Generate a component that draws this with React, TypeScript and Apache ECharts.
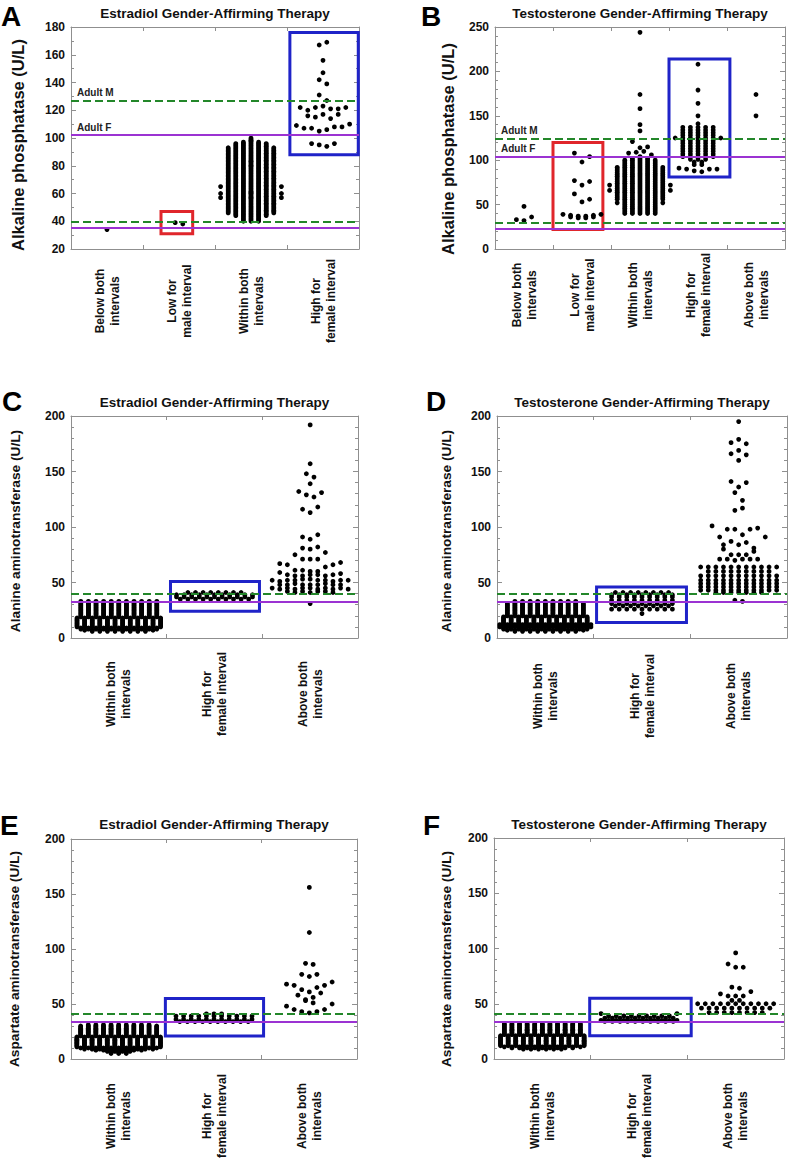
import React, { useEffect, useRef } from "react";
import * as echarts from "echarts";

const FONT = "Arial, 'Liberation Sans', Helvetica, sans-serif";
const GREEN = "#23872a";
const PURPLE = "#9b32d2";
const BLUE = "#1f23c8";
const RED = "#e0262b";
const AXIS = "#8f8f8f";
const INK = "#111111";

// ---------- category tick labels ----------
const catsA = ["Below both\nintervals", "Low for\nmale interval", "Within both\nintervals", "High for\nfemale interval"];
const catsB = ["Below both\nintervals", "Low for\nmale interval", "Within both\nintervals", "High for\nfemale interval", "Above both\nintervals"];
const catsLiver = ["Within both\nintervals", "High for\nfemale interval", "Above both\nintervals"];

// ---------- y tick labels ----------
const yTicksA = [20, 40, 60, 80, 100, 120, 140, 160, 180];
const yTicksB = [0, 50, 100, 150, 200, 250];
const yTicksLiver = [0, 50, 100, 150, 200];

// ---------- reference limits ----------
const maleLimitsA = [40, 127];
const femaleLimitsA = [35, 102];
const maleLimitsB = [30, 124];
const femaleLimitsB = [23, 104];
const maleLimitsALT = [40];
const femaleLimitsALT = [33];
const maleLimitsAST = [41];
const femaleLimitsAST = [34];

// ---------- data: rows of dots (values U/L); dense rows are [value, count] ----------
// Panel A
const aBelowRows = [[34]];
const aLowMaleRows = [[39, 38]];
const aWithinRows = [[98], [83], [80], [61], [60], [57]];
const aWithinDense: [number, number][] = [[40,3],[41,3],[42,3],[43,3],[44,5],[45,5],[46,7],[47,7],[48,7],[49,7],[50,7],[51,7],[52,7],[53,7],[54,7],[55,7],[56,7],[57,9],[58,7],[59,7],[60,9],[61,7],[62,7],[63,7],[64,7],[65,9],[66,7],[67,7],[68,7],[69,7],[70,7],[71,7],[72,7],[73,7],[74,7],[75,7],[76,7],[77,7],[78,7],[79,7],[80,7],[81,7],[82,7],[83,7],[84,7],[85,7],[86,7],[87,7],[88,7],[89,7],[90,7],[91,7],[92,7],[93,7],[94,5],[95,5],[96,5],[97,3],[98,1],[99,1],[100,1]];
const aHighFemaleRows = [[167, 169], [156], [147], [142, 139], [131, 127], [122, 120, 122, 123, 121, 121, 122], [116, 115, 117, 114, 117], [109, 107, 107, 105, 106, 108, 108, 110], [96, 95, 94, 96]];

// Panel B
const bBelowRows = [[48], [33, 32, 36]];
const bLowMaleRows = [[108, 98, 104], [77, 72, 76], [62, 53, 56], [38, 37, 37, 38], [39, 36, 35, 35, 36, 39]];
const bWithinRows = [[244], [174], [158], [140], [133], [121, 114, 115], [108, 109, 110, 106]];
const bWithinDense: [number, number][] = [[40,5],[42,5],[44,5],[46,5],[48,5],[50,5],[52,7],[54,5],[56,7],[58,7],[60,7],[62,7],[64,7],[66,9],[68,7],[70,7],[72,9],[74,7],[76,7],[78,7],[80,7],[82,7],[84,7],[86,7],[88,7],[90,7],[92,7],[94,5],[96,5],[98,5],[100,5],[102,3],[104,1]];
const bHighFemaleRows = [[208], [179], [164], [150], [141], [91, 90, 88, 87, 90, 90]];
const bHighFemaleDense: [number, number][] = [[137,5],[134,5],[131,5],[128,5],[125,7],[122,5],[119,5],[116,5],[113,5],[110,5],[107,5],[104,5],[101,3],[98,2],[95,2]];
const bAboveRows = [[174], [150]];

// Panel C
const cWithinDense: [number, number][] = [[6,8],[7,10],[8,11],[9,11],[10,12],[11,12],[12,12],[13,12],[14,12],[15,12],[16,12],[17,12],[18,12],[19,11],[20,11],[21,11],[22,11],[23,11],[24,11],[25,11],[26,11],[27,11],[28,11],[29,11],[30,11],[31,11],[32,11],[33,11]];
const cHighFemaleDense: [number, number][] = [[41,8],[39,11],[37,11],[35,10]];
const cAboveRows = [[192], [157], [148, 145], [139], [132, 129, 127, 131], [116, 113, 118], [91, 89, 93], [81, 80, 82], [75, 71, 71, 71, 77], [67, 66, 61, 61, 60, 60, 64, 66, 68], [59, 57, 56, 56, 57, 57, 56, 57, 58], [52, 51, 52, 52, 53, 53, 52, 52, 51, 52, 52], [48, 48, 49, 48, 48, 48, 49, 48, 48], [45, 44, 45, 44, 45, 45, 44, 45, 44, 45, 44], [42, 41, 42, 41, 42, 42, 41], [31]];

// Panel D
const dWithinDense: [number, number][] = [[6,9],[7,11],[8,12],[9,12],[10,13],[11,12],[12,13],[13,12],[14,12],[15,12],[16,12],[17,12],[18,12],[19,12],[20,11],[21,11],[22,11],[23,11],[24,11],[25,11],[26,11],[27,11],[28,11],[29,11],[30,11],[31,11],[32,9],[33,9]];
const dHighFemaleRows = [[22]];
const dHighFemaleDense: [number, number][] = [[41,8],[39,9],[37,9],[34,9],[31,9],[29,8],[26,9]];
const dAboveRows = [[195], [176, 179, 175], [166, 169, 165], [160], [141, 136, 140], [131, 124], [115, 117], [101, 91, 98, 98, 93, 98, 99, 91], [84, 87, 84, 86, 81], [80, 75, 75, 75, 78], [71, 71, 70, 71, 71, 71], [34, 33]];
const dAboveDense: [number, number][] = [[64,11],[60,9],[56,11],[52,11],[49,11],[46,11],[43,11],[41,7]];

// Panel E
const eWithinDense: [number, number][] = [[5,3],[6,3],[7,4],[8,7],[9,10],[10,11],[11,12],[12,12],[13,12],[14,12],[15,12],[16,12],[17,12],[18,12],[19,12],[20,12],[21,11],[22,11],[23,11],[24,11],[25,11],[26,11],[27,11],[28,11],[29,11],[30,11],[31,9]];
const eHighFemaleDense: [number, number][] = [[41,3],[39,11],[36,11],[34,10]];
const eAboveRows = [[156], [115], [87, 86], [77, 75, 77], [68, 67, 63, 61, 65, 67, 70], [58, 54, 56, 60], [53, 51], [48, 45, 43, 42, 43, 45, 50]];

// Panel F
const fWithinDense: [number, number][] = [[9,6],[10,9],[11,11],[12,12],[13,12],[14,12],[15,12],[16,12],[17,12],[18,12],[19,12],[20,12],[21,12],[22,11],[23,11],[24,11],[25,11],[26,11],[27,11],[28,11],[29,11],[30,11],[31,11],[32,11]];
const fHighFemaleRows = [[41, 39, 39, 39, 39, 39, 39, 39, 39, 39, 41]];
const fHighFemaleDense: [number, number][] = [[37,10],[35,11],[34,10]];
const fAboveRows = [[96], [86, 83, 83], [65, 64], [59, 57, 57, 57, 61], [53, 53]];
const fAboveDense: [number, number][] = [[50,11],[46,10],[42,8]];

// ---------- highlight boxes (category, x-extent around category, y-range) ----------
const boxesA = [
  { cat: 1, from: -0.25, to: 0.19, low: 31, high: 47, color: RED },
  { cat: 3, from: -0.46, to: 0.49, low: 88, high: 176, color: BLUE },
];
const boxesB = [
  { cat: 1, from: -0.5, to: 0.36, low: 22, high: 120, color: RED },
  { cat: 3, from: -0.5, to: 0.55, low: 81, high: 214, color: BLUE },
];
const boxesC = [{ cat: 1, from: -0.46, to: 0.47, low: 24, high: 51, color: BLUE }];
const boxesD = [{ cat: 1, from: -0.47, to: 0.46, low: 14, high: 46, color: BLUE }];
const boxesE = [{ cat: 1, from: -0.51, to: 0.52, low: 21, high: 55, color: BLUE }];
const boxesF = [{ cat: 1, from: -0.51, to: 0.54, low: 21, high: 55, color: BLUE }];

type Group = { rows?: number[][]; dense?: [number, number][] };

const TITLE_E = "Estradiol Gender-Affirming Therapy";
const TITLE_T = "Testosterone Gender-Affirming Therapy";

const panels = [
  { letter: "A", lx: 1, ly: 16, title: TITLE_E, ty: 6, yName: "Alkaline phosphatase (U/L)", yNameSize: 16.5, yNameX: 17.5, yNameY: 145, grid: { left: 71, top: 27, width: 288, height: 222 }, cats: catsA, ticks: yTicksA, minor: 2, groups: [{ rows: aBelowRows }, { rows: aLowMaleRows }, { rows: aWithinRows, dense: aWithinDense }, { rows: aHighFemaleRows }] as Group[], male: maleLimitsA, female: femaleLimitsA, adult: true, boxes: boxesA, labelMargin: 52 },
  { letter: "B", lx: 421, ly: 16, title: TITLE_T, ty: 6, yName: "Alkaline phosphatase (U/L)", yNameSize: 16.5, yNameX: 448, yNameY: 149, grid: { left: 495, top: 27, width: 290, height: 222 }, cats: catsB, ticks: yTicksB, minor: 5, groups: [{ rows: bBelowRows }, { rows: bLowMaleRows }, { rows: bWithinRows, dense: bWithinDense }, { rows: bHighFemaleRows, dense: bHighFemaleDense }, { rows: bAboveRows }] as Group[], male: maleLimitsB, female: femaleLimitsB, adult: true, boxes: boxesB, labelMargin: 46 },
  { letter: "C", lx: 2, ly: 401, title: TITLE_E, ty: 395, yName: "Alanine aminotransferase (U/L)", yNameSize: 13.7, yNameX: 15, yNameY: 531, grid: { left: 71, top: 416, width: 287, height: 222 }, cats: catsLiver, ticks: yTicksLiver, minor: 5, groups: [{ dense: cWithinDense }, { dense: cHighFemaleDense }, { rows: cAboveRows }] as Group[], male: maleLimitsALT, female: femaleLimitsALT, adult: false, boxes: boxesC, labelMargin: 56 },
  { letter: "D", lx: 426, ly: 401, title: TITLE_T, ty: 395, yName: "Alanine aminotransferase (U/L)", yNameSize: 13.7, yNameX: 446, yNameY: 531, grid: { left: 497, top: 416, width: 290, height: 222 }, cats: catsLiver, ticks: yTicksLiver, minor: 5, groups: [{ dense: dWithinDense }, { rows: dHighFemaleRows, dense: dHighFemaleDense }, { rows: dAboveRows, dense: dAboveDense }] as Group[], male: maleLimitsALT, female: femaleLimitsALT, adult: false, boxes: boxesD, labelMargin: 58 },
  { letter: "E", lx: 0, ly: 825, title: TITLE_E, ty: 817, yName: "Aspartate aminotransferase (U/L)", yNameSize: 13.7, yNameX: 14.5, yNameY: 959, grid: { left: 71, top: 839, width: 286, height: 220 }, cats: catsLiver, ticks: yTicksLiver, minor: 5, groups: [{ dense: eWithinDense }, { dense: eHighFemaleDense }, { rows: eAboveRows }] as Group[], male: maleLimitsAST, female: femaleLimitsAST, adult: false, boxes: boxesE, labelMargin: 57 },
  { letter: "F", lx: 423, ly: 825, title: TITLE_T, ty: 817, yName: "Aspartate aminotransferase (U/L)", yNameSize: 13.7, yNameX: 446, yNameY: 959, grid: { left: 494, top: 838, width: 290, height: 221 }, cats: catsLiver, ticks: yTicksLiver, minor: 5, groups: [{ dense: fWithinDense }, { rows: fHighFemaleRows, dense: fHighFemaleDense }, { rows: fAboveRows, dense: fAboveDense }] as Group[], male: maleLimitsAST, female: femaleLimitsAST, adult: false, boxes: boxesF, labelMargin: 57 },
];

const DOT_STEP_PX = 7.6;
const DOT_SIZE = 4.8;

function layoutDots(groups: Group[], catWidthPx: number): number[][] {
  const step = DOT_STEP_PX / catWidthPx;
  const pts: number[][] = [];
  groups.forEach((g, ci) => {
    const rows: number[][] = [...(g.rows || [])];
    (g.dense || []).forEach(([v, n]) => rows.push(new Array(n).fill(v)));
    rows.forEach((row) => {
      const n = row.length;
      row.forEach((v, i) => pts.push([ci + (i - (n - 1) / 2) * step, v]));
    });
  });
  return pts;
}

function buildOption() {
  const grid: any[] = [];
  const xAxis: any[] = [];
  const yAxis: any[] = [];
  const series: any[] = [];
  const title: any[] = [];
  const graphic: any[] = [];

  panels.forEach((p, i) => {
    const n = p.cats.length;
    grid.push({ ...p.grid, containLabel: false });
    const catLabel = {
      interval: 0,
      rotate: 90,
      align: "center",
      verticalAlign: "middle",
      margin: p.labelMargin,
      formatter: (v: string) => v.split("\n").map((s) => `{c|${s}}`).join("\n"),
      rich: { c: { fontSize: 12, fontWeight: "bold", color: INK, lineHeight: 15, align: "center", fontFamily: FONT } },
    };
    const catAxisBase = {
      gridIndex: i, type: "category", data: p.cats, boundaryGap: true,
      axisLine: { show: true, onZero: false, lineStyle: { color: AXIS, width: 1 } },
      axisTick: { show: true, inside: true, length: 4, interval: 0, lineStyle: { color: AXIS } },
      splitLine: { show: false },
    };
    xAxis.push({ ...catAxisBase, position: "bottom", axisLabel: catLabel });
    xAxis.push({ ...catAxisBase, position: "top", axisLabel: { show: false } });
    xAxis.push({ gridIndex: i, type: "value", min: -0.5, max: n - 0.5, show: false, position: "bottom", axisLine: { onZero: false } });

    const min = p.ticks[0];
    const max = p.ticks[p.ticks.length - 1];
    const interval = p.ticks[1] - p.ticks[0];
    const yBase = {
      gridIndex: i, type: "value", min, max, interval,
      axisLine: { show: true, onZero: false, lineStyle: { color: AXIS, width: 1 } },
      axisTick: { show: true, inside: true, length: 5, lineStyle: { color: AXIS } },
      minorTick: { show: true, splitNumber: p.minor, length: 3, lineStyle: { color: AXIS } },
      splitLine: { show: false }, minorSplitLine: { show: false },
    };
    yAxis.push({ ...yBase, position: "left", axisLabel: { fontSize: 12, fontWeight: "bold", color: INK, margin: 6, fontFamily: FONT } });
    yAxis.push({ ...yBase, position: "right", axisLabel: { show: false } });

    const catWidth = p.grid.width / n;
    series.push({
      type: "scatter", xAxisIndex: 3 * i + 2, yAxisIndex: 2 * i,
      data: layoutDots(p.groups, catWidth), symbol: "circle", symbolSize: DOT_SIZE,
      itemStyle: { color: "#000", opacity: 1 }, silent: true, z: 2, large: false,
    });

    const maxM = Math.max(...p.male);
    const maxF = Math.max(...p.female);
    const adultLabel = (txt: string) => ({
      show: true, formatter: txt, position: "insideStartTop", distance: [6, 3],
      fontSize: 10, fontWeight: "bold", color: "#222", fontFamily: FONT,
    });
    const lineData: any[] = [];
    p.male.forEach((v) => lineData.push({
      yAxis: v, lineStyle: { color: GREEN, width: 2, type: [8, 4] },
      label: p.adult && v === maxM ? adultLabel("Adult M") : { show: false },
    }));
    p.female.forEach((v) => lineData.push({
      yAxis: v, lineStyle: { color: PURPLE, width: 2, type: "solid" },
      label: p.adult && v === maxF ? adultLabel("Adult F") : { show: false },
    }));

    series.push({
      type: "scatter", xAxisIndex: 3 * i + 2, yAxisIndex: 2 * i, data: [], z: 5, silent: true,
      markLine: { silent: true, symbol: ["none", "none"], animation: false, data: lineData },
      markArea: {
        silent: true, animation: false,
        data: p.boxes.map((b) => [
          { xAxis: b.cat + b.from, yAxis: b.low, itemStyle: { color: "rgba(0,0,0,0)", borderColor: b.color, borderWidth: 3 } },
          { xAxis: b.cat + b.to, yAxis: b.high },
        ]),
      },
    });

    title.push({
      text: p.title, left: p.grid.left + p.grid.width / 2, top: p.ty, textAlign: "center", padding: 0,
      textStyle: { fontSize: 13.5, fontWeight: "bold", color: INK, fontFamily: FONT },
    });

    graphic.push({
      type: "text", x: p.lx, y: p.ly,
      style: { text: p.letter, fontSize: 28, fontWeight: "bold", fontFamily: FONT, fill: "#000", align: "left", verticalAlign: "middle" },
    });
    graphic.push({
      type: "text", x: p.yNameX, y: p.yNameY, rotation: Math.PI / 2,
      style: { text: p.yName, fontSize: p.yNameSize, fontWeight: "bold", fontFamily: FONT, fill: INK, align: "center", verticalAlign: "middle" },
    });
  });

  return {
    animation: false,
    backgroundColor: "#ffffff",
    textStyle: { fontFamily: FONT },
    title, grid, xAxis, yAxis, series, graphic,
  };
}

export default function App() {
  const ref = useRef<HTMLDivElement>(null);
  useEffect(() => {
    document.body.style.margin = "0";
    document.body.style.overflow = "hidden";
    if (!ref.current) return;
    const chart = echarts.init(ref.current, undefined, { renderer: "svg" });
    chart.setOption(buildOption() as any);
    return () => chart.dispose();
  }, []);
  return <div ref={ref} style={{ width: 789, height: 1169, background: "#fff" }} />;
}
